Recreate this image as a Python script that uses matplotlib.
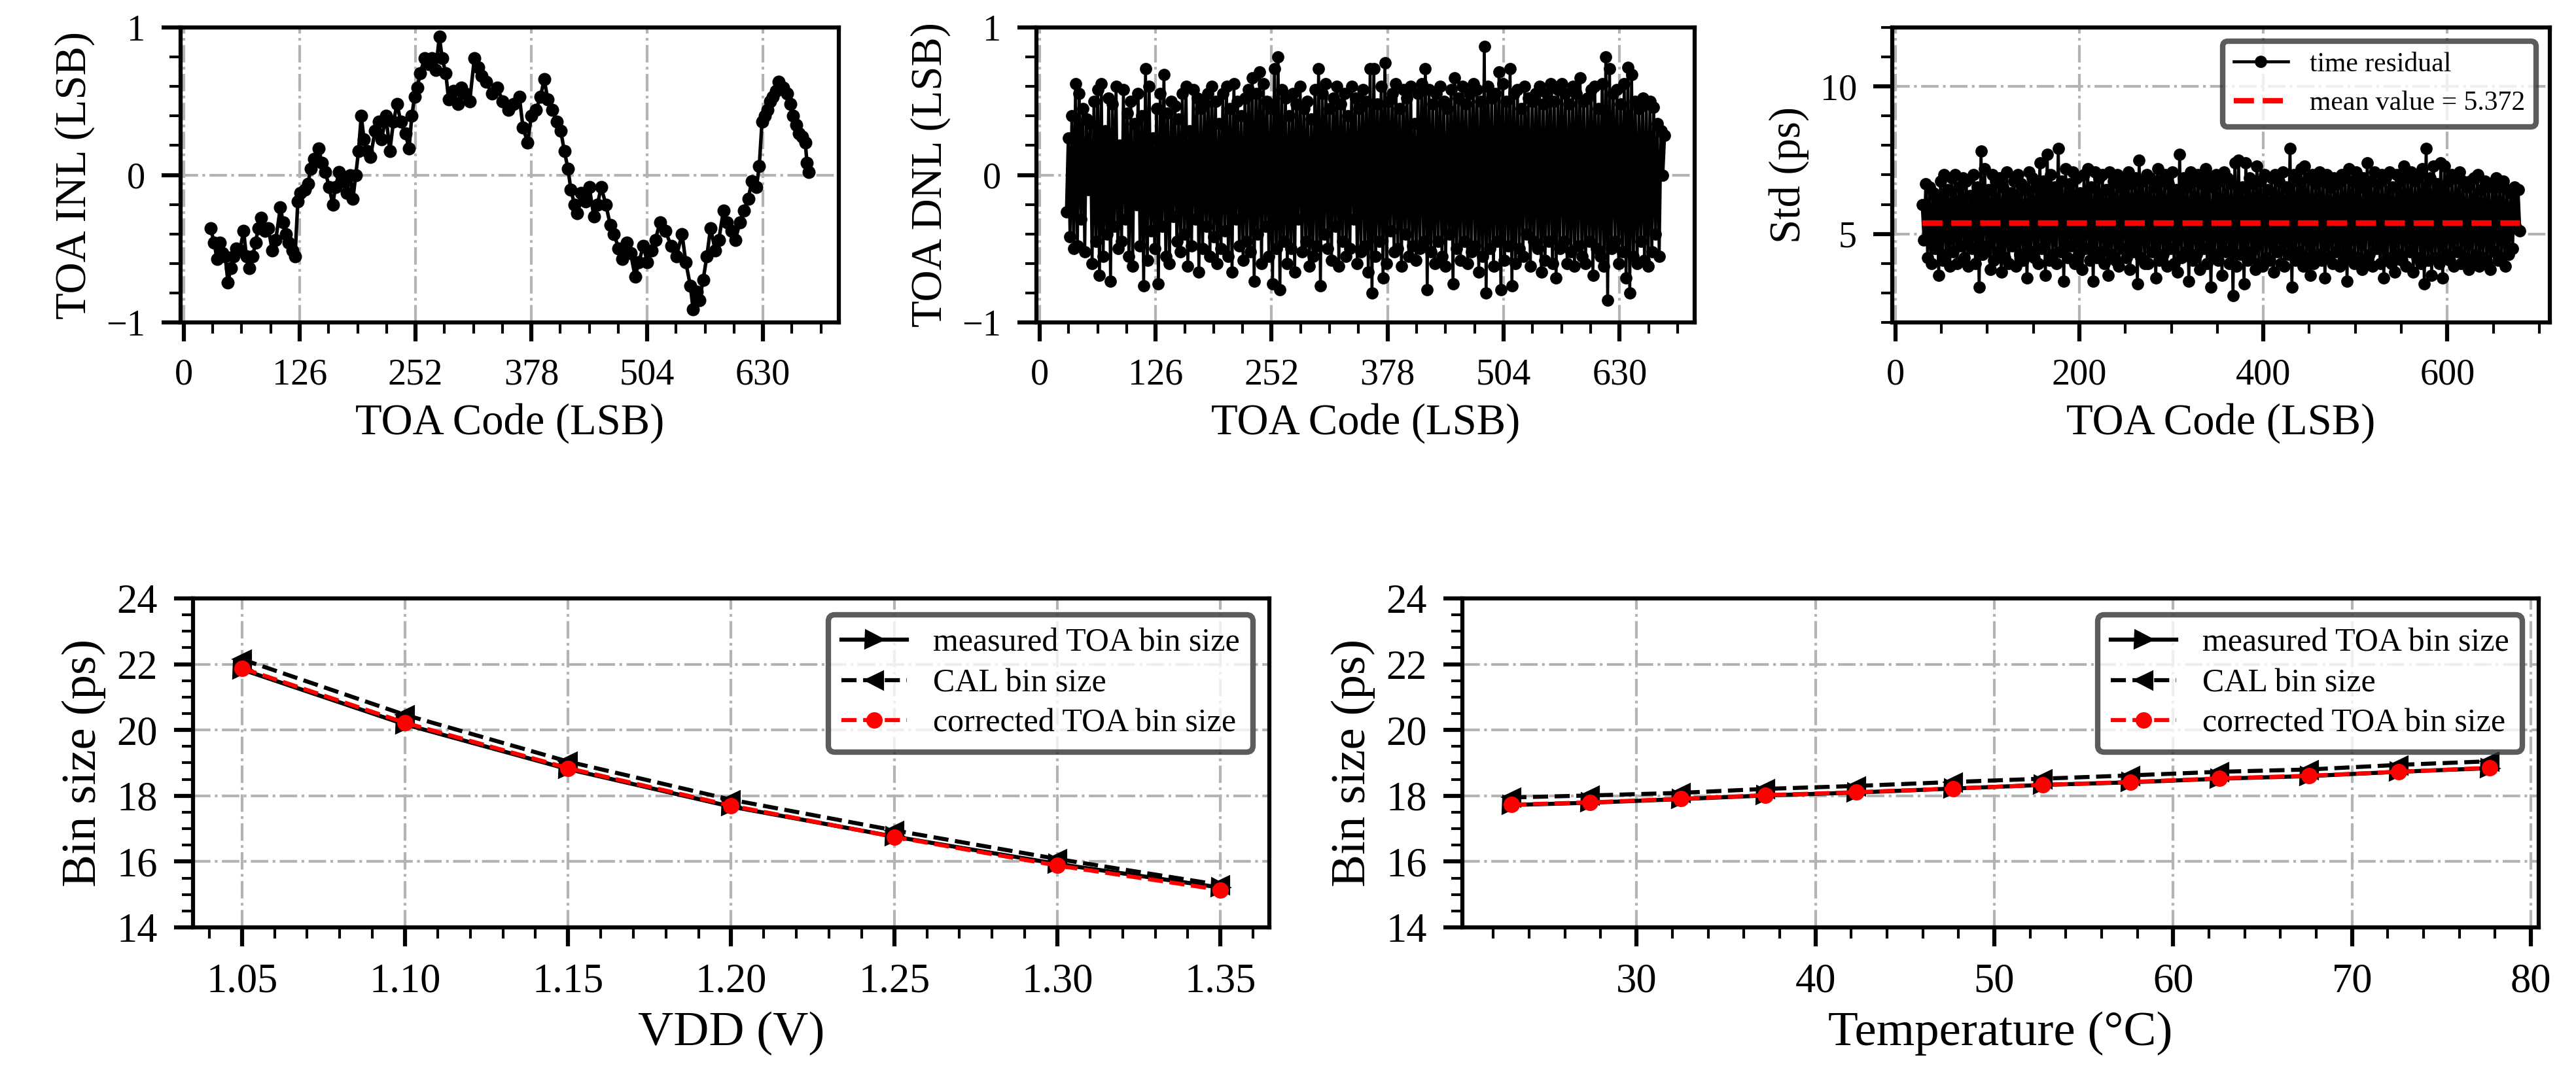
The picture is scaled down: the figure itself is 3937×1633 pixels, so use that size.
import numpy as np
import matplotlib
matplotlib.use('Agg')
import matplotlib.pyplot as plt
from matplotlib.ticker import MultipleLocator, FormatStrFormatter

plt.rcParams['font.family'] = ['Liberation Serif', 'DejaVu Serif']

W, H = 3937, 1633

# INL (LSB) vs TOA code
inl_code = [29, 33, 36, 39, 42, 45, 48, 51, 54, 57,
            61, 65, 68, 71, 75, 78, 81, 84, 88, 92,
            96, 100, 105, 108, 111, 114, 118, 121, 124, 127,
            132, 135, 138, 142, 147, 150, 154, 158, 162, 165,
            169, 172, 177, 181, 184, 187, 190, 193, 196, 199,
            203, 208, 212, 215, 220, 224, 228, 232, 236, 241,
            245, 248, 251, 254, 257, 262, 266, 270, 274, 278,
            281, 285, 288, 293, 298, 302, 306, 311, 316, 320,
            324, 329, 335, 341, 347, 353, 359, 365, 369, 374,
            378, 383, 388, 392, 396, 401, 406, 410, 414, 418,
            421, 425, 428, 432, 437, 441, 446, 450, 454, 459,
            464, 468, 473, 477, 482, 486, 491, 495, 500, 504,
            509, 513, 518, 524, 530, 536, 542, 546, 551, 554,
            558, 561, 565, 569, 573, 578, 582, 587, 591, 596,
            600, 605, 609, 614, 618, 623, 626, 629, 632, 635,
            638, 641, 644, 647, 652, 656, 660, 663, 666, 669,
            673, 676, 678, 680]
inl_lsb = [-0.36, -0.46, -0.57, -0.46, -0.53, -0.55, -0.73, -0.63, -0.55, -0.50,
           -0.51, -0.38, -0.55, -0.63, -0.55, -0.46, -0.36, -0.29, -0.38, -0.36,
           -0.51, -0.44, -0.22, -0.32, -0.40, -0.46, -0.51, -0.55, -0.18, -0.12,
           -0.10, -0.06, 0.04, 0.11, 0.18, 0.08, 0.02, -0.08, -0.20, -0.08,
           0.02, -0.04, -0.12, 0.00, -0.16, 0.00, 0.16, 0.40, 0.24, 0.16,
           0.12, 0.30, 0.36, 0.24, 0.40, 0.16, 0.36, 0.48, 0.36, 0.28,
           0.18, 0.40, 0.53, 0.59, 0.69, 0.79, 0.75, 0.79, 0.71, 0.94,
           0.79, 0.69, 0.51, 0.57, 0.48, 0.59, 0.55, 0.50, 0.79, 0.73,
           0.67, 0.63, 0.55, 0.59, 0.50, 0.44, 0.48, 0.53, 0.32, 0.22,
           0.40, 0.44, 0.53, 0.65, 0.51, 0.44, 0.36, 0.30, 0.16, 0.04,
           -0.10, -0.20, -0.26, -0.12, -0.18, -0.08, -0.28, -0.20, -0.08, -0.20,
           -0.34, -0.40, -0.50, -0.57, -0.46, -0.53, -0.69, -0.59, -0.48, -0.59,
           -0.51, -0.44, -0.32, -0.38, -0.48, -0.55, -0.40, -0.59, -0.75, -0.91,
           -0.79, -0.85, -0.71, -0.55, -0.36, -0.51, -0.44, -0.24, -0.32, -0.38,
           -0.44, -0.32, -0.24, -0.16, -0.04, -0.08, 0.06, 0.36, 0.40, 0.44,
           0.50, 0.53, 0.57, 0.63, 0.59, 0.55, 0.48, 0.40, 0.34, 0.28,
           0.26, 0.22, 0.08, 0.02]

# DNL (LSB), codes 29, 31, 33 ...
dnl_lsb = [-0.25, 0.25, -0.42, 0.4, -0.5, 0.62, -0.48, 0.55, -0.3, 0.45, -0.52, 0.38, -0.1, 0.35, -0.6, 0.5, -0.45, 0.58, -0.68, 0.62,
           -0.55, 0.3, -0.4, 0.52, -0.72, 0.48, -0.35, 0.6, -0.5, 0.2, -0.45, 0.58, -0.3, 0.42, -0.55, 0.5, -0.62, 0.35, -0.2, 0.55,
           -0.48, 0.4, -0.75, 0.72, -0.58, 0.6, -0.38, 0.25, -0.5, 0.45, -0.74, 0.55, -0.35, 0.68, -0.55, 0.42, -0.6, 0.5, -0.28, 0.47,
           -0.45, 0.38, -0.52, 0.55, -0.4, 0.6, -0.62, 0.3, -0.48, 0.58, -0.3, 0.52, -0.66, 0.45, -0.5, 0.48, -0.35, 0.55, -0.55, 0.6,
           -0.42, 0.5, -0.6, 0.35, -0.5, 0.55, -0.38, 0.6, -0.55, 0.45, -0.66, 0.62, -0.3, 0.5, -0.48, 0.4, -0.58, 0.52, -0.45, 0.58,
           -0.52, 0.66, -0.72, 0.55, -0.4, 0.7, -0.6, 0.62, -0.35, 0.5, -0.55, 0.45, -0.74, 0.72, -0.5, 0.8, -0.78, 0.58, -0.45, 0.52,
           -0.6, 0.4, -0.5, 0.55, -0.66, 0.48, -0.3, 0.6, -0.52, 0.45, -0.45, 0.5, -0.62, 0.38, -0.55, 0.58, -0.48, 0.72, -0.75, 0.55,
           -0.4, 0.62, -0.5, 0.45, -0.58, 0.52, -0.35, 0.6, -0.62, 0.48, -0.45, 0.55, -0.55, 0.4, -0.5, 0.6, -0.3, 0.52, -0.6, 0.45,
           -0.52, 0.58, -0.48, 0.5, -0.66, 0.72, -0.8, 0.72, -0.55, 0.48, -0.45, 0.6, -0.7, 0.76, -0.6, 0.5, -0.38, 0.55, -0.52, 0.62,
           -0.5, 0.45, -0.62, 0.58, -0.4, 0.52, -0.55, 0.6, -0.48, 0.35, -0.58, 0.55, -0.5, 0.62, -0.45, 0.72, -0.78, 0.58, -0.52, 0.48,
           -0.6, 0.55, -0.45, 0.6, -0.55, 0.5, -0.62, 0.45, -0.4, 0.58, -0.74, 0.66, -0.5, 0.52, -0.58, 0.6, -0.45, 0.48, -0.6, 0.55,
           -0.52, 0.62, -0.48, 0.58, -0.66, 0.5, -0.55, 0.87, -0.8, 0.6, -0.5, 0.52, -0.62, 0.55, -0.45, 0.7, -0.78, 0.62, -0.58, 0.5,
           -0.48, 0.72, -0.75, 0.55, -0.6, 0.58, -0.5, 0.45, -0.55, 0.6, -0.4, 0.52, -0.62, 0.5, -0.45, 0.55, -0.5, 0.6, -0.66, 0.48,
           -0.58, 0.55, -0.45, 0.62, -0.6, 0.5, -0.7, 0.58, -0.5, 0.62, -0.45, 0.55, -0.6, 0.48, -0.52, 0.6, -0.62, 0.55, -0.48, 0.66,
           -0.55, 0.5, -0.6, 0.52, -0.45, 0.58, -0.68, 0.6, -0.5, 0.45, -0.55, 0.62, -0.62, 0.8, -0.85, 0.72, -0.5, 0.55, -0.45, 0.58,
           -0.6, 0.48, -0.52, 0.62, -0.7, 0.73, -0.8, 0.68, -0.55, 0.5, -0.6, 0.45, -0.45, 0.52, -0.58, 0.48, -0.62, 0.5, -0.52, 0.46,
           -0.4, 0.35, -0.55, 0.3, 0.0, 0.27]

# time residual std (ps), same codes
std_ps = [6.0, 4.8, 6.7, 4.2, 6.6, 4.0, 6.4, 4.5, 6.2, 3.6, 6.8, 4.1, 7.0, 4.3, 6.5, 3.9, 6.9, 4.4, 7.0, 4.0,
          6.6, 4.6, 6.9, 4.2, 6.8, 3.9, 6.3, 4.5, 7.0, 4.0, 6.6, 3.2, 7.8, 4.3, 7.2, 4.6, 6.5, 3.8, 7.0, 4.1,
          6.8, 4.4, 6.9, 3.7, 6.6, 4.2, 7.1, 4.0, 6.4, 4.6, 6.8, 3.9, 7.0, 4.3, 6.7, 4.1, 6.5, 3.5, 7.1, 4.4,
          6.9, 4.2, 6.6, 4.0, 7.4, 4.5, 6.8, 3.6, 7.7, 4.1, 7.0, 4.3, 6.6, 4.0, 7.9, 4.4, 6.8, 3.4, 7.2, 4.2,
          6.7, 4.6, 7.1, 4.0, 6.9, 4.3, 6.4, 3.8, 7.0, 4.5, 7.2, 4.1, 6.6, 3.4, 7.1, 4.2, 6.9, 4.4, 7.0, 4.0,
          6.5, 3.6, 7.1, 4.3, 6.8, 4.1, 7.0, 3.9, 6.6, 4.5, 6.9, 4.2, 7.1, 3.8, 6.7, 4.4, 6.9, 3.3, 7.5, 4.2,
          6.8, 4.0, 7.0, 4.0, 6.9, 4.4, 6.6, 3.5, 7.2, 4.1, 6.8, 4.3, 7.0, 3.9, 6.7, 4.5, 7.1, 4.0, 6.5, 3.7,
          7.7, 4.2, 6.9, 4.4, 6.6, 3.4, 7.1, 4.1, 6.8, 4.3, 7.0, 3.8, 6.7, 4.5, 7.2, 4.0, 6.9, 3.2, 6.6, 4.3,
          7.0, 4.1, 6.8, 3.6, 7.1, 4.4, 6.9, 4.0, 6.7, 2.9, 7.4, 3.9, 7.5, 4.3, 6.6, 3.3, 7.4, 4.1, 6.9, 4.4,
          6.7, 3.8, 7.3, 4.0, 6.8, 3.9, 7.0, 4.2, 6.5, 4.1, 6.9, 3.7, 7.0, 4.4, 6.8, 4.0, 7.1, 3.9, 6.6, 4.3,
          7.9, 3.2, 7.0, 4.1, 6.8, 4.4, 7.2, 3.9, 7.3, 4.2, 6.9, 3.6, 7.0, 4.0, 6.7, 4.3, 7.1, 4.1, 6.8, 3.5,
          7.0, 4.2, 6.6, 4.0, 6.9, 4.4, 6.7, 3.9, 7.0, 4.1, 6.9, 3.4, 7.2, 4.3, 6.8, 4.0, 7.1, 4.2, 6.6, 3.8,
          6.9, 4.1, 7.4, 4.3, 6.8, 3.9, 7.1, 4.5, 6.7, 4.0, 7.0, 3.5, 6.9, 4.2, 7.1, 4.0, 6.6, 3.7, 7.0, 4.3,
          6.8, 4.1, 7.3, 3.9, 6.9, 4.4, 7.1, 3.7, 6.8, 4.2, 7.0, 4.0, 7.2, 3.3, 7.9, 4.1, 6.9, 3.6, 7.3, 4.2,
          6.7, 4.0, 7.4, 3.5, 7.3, 4.3, 6.8, 4.1, 7.0, 3.9, 6.9, 4.4, 7.1, 4.0, 6.8, 4.2, 6.6, 3.8, 6.8, 4.1,
          6.9, 4.3, 7.0, 3.9, 6.5, 4.2, 6.8, 4.0, 6.7, 3.8, 6.6, 4.4, 6.9, 4.1, 6.6, 4.2, 6.8, 3.9, 6.5, 4.3,
          6.4, 4.5, 6.6, 5.2, 6.5, 5.1]
std_mean = 5.372

# bin size vs VDD
vdd = [1.05, 1.10, 1.15, 1.20, 1.25, 1.30, 1.35]
vdd_measured = [21.84, 20.17, 18.81, 17.67, 16.76, 15.93, 15.21]
vdd_cal = [22.15, 20.46, 19.04, 17.88, 16.95, 16.08, 15.29]
vdd_corrected = [21.88, 20.22, 18.84, 17.70, 16.75, 15.88, 15.14]

# bin size vs temperature
temp = [23.0, 27.4, 32.5, 37.2, 42.3, 47.7, 52.7, 57.6, 62.6, 67.6, 72.6, 77.7]
temp_measured = [17.72, 17.79, 17.90, 18.01, 18.10, 18.22, 18.33, 18.41, 18.52, 18.60, 18.73, 18.84]
temp_cal = [17.95, 18.01, 18.09, 18.21, 18.30, 18.42, 18.52, 18.62, 18.73, 18.80, 18.94, 19.05]
temp_corrected = [17.73, 17.80, 17.91, 18.02, 18.11, 18.22, 18.33, 18.42, 18.53, 18.61, 18.73, 18.85]


def axes_px(fig, x0, y0, x1, y1):
  return fig.add_axes([x0 / W, 1 - y1 / H, (x1 - x0) / W, (y1 - y0) / H])


def style(ax, size):
  for s in ax.spines.values():
    s.set_linewidth(1.5)
  ax.tick_params(which='major', direction='out', length=7, width=1.5, labelsize=size, pad=6)
  ax.tick_params(which='minor', direction='out', length=4, width=1)
  ax.grid(which='major', linestyle='-.', color='#b3b3b3', linewidth=1)
  ax.set_axisbelow(True)


def frame(leg):
  leg.get_frame().set_edgecolor('#333333')
  leg.get_frame().set_linewidth(2)


fig = plt.figure(figsize=(W / 300, H / 300), dpi=300)

codes = np.arange(29, 29 + 2 * len(dnl_lsb), 2)

# INL
ax1 = axes_px(fig, 276, 42, 1282, 493)
ax1.plot(inl_code, inl_lsb, '-o', color='black', lw=1.3, ms=3.8)
ax1.set_ylim(-1, 1)
ax1.xaxis.set_major_locator(MultipleLocator(126))
ax1.xaxis.set_minor_locator(MultipleLocator(31.5))
ax1.yaxis.set_major_locator(MultipleLocator(1))
ax1.yaxis.set_minor_locator(MultipleLocator(0.2))
ax1.set_xlabel('TOA Code (LSB)', fontsize=16)
ax1.set_ylabel('TOA INL (LSB)', fontsize=16)
style(ax1, 13.5)

# DNL
ax2 = axes_px(fig, 1584, 42, 2590, 493)
ax2.plot(codes, dnl_lsb, '-o', color='black', lw=1.1, ms=3.5)
ax2.set_ylim(-1, 1)
ax2.xaxis.set_major_locator(MultipleLocator(126))
ax2.xaxis.set_minor_locator(MultipleLocator(31.5))
ax2.yaxis.set_major_locator(MultipleLocator(1))
ax2.yaxis.set_minor_locator(MultipleLocator(0.2))
ax2.set_xlabel('TOA Code (LSB)', fontsize=16)
ax2.set_ylabel('TOA DNL (LSB)', fontsize=16)
style(ax2, 13.5)

# Std
ax3 = axes_px(fig, 2892, 42, 3897, 493)
ax3.plot(codes, std_ps, '-o', color='black', lw=1.1, ms=3.5, label='time residual')
ax3.plot([codes[0], codes[-1]], [std_mean, std_mean], '--', color='red', lw=2,
         label=f'mean value = {std_mean}')
ax3.set_ylim(2, 12)
ax3.xaxis.set_major_locator(MultipleLocator(200))
ax3.xaxis.set_minor_locator(MultipleLocator(50))
ax3.yaxis.set_major_locator(MultipleLocator(5))
ax3.yaxis.set_minor_locator(MultipleLocator(1))
ax3.set_xlabel('TOA Code (LSB)', fontsize=16)
ax3.set_ylabel('Std (ps)', fontsize=16)
style(ax3, 13.5)
frame(ax3.legend(loc='upper right', fontsize=10))

# VDD
ax4 = axes_px(fig, 295, 915, 1940, 1418)
ax4.plot(vdd, vdd_measured, '->', color='black', lw=1.5, ms=6, label='measured TOA bin size')
ax4.plot(vdd, vdd_cal, '--<', color='black', lw=1.5, ms=6, label='CAL bin size')
ax4.plot(vdd, vdd_corrected, '--o', color='red', lw=1.5, ms=5, label='corrected TOA bin size')
ax4.set_ylim(14, 24)
ax4.xaxis.set_major_locator(MultipleLocator(0.05))
ax4.xaxis.set_minor_locator(MultipleLocator(0.01))
ax4.xaxis.set_major_formatter(FormatStrFormatter('%.2f'))
ax4.yaxis.set_major_locator(MultipleLocator(2))
ax4.yaxis.set_minor_locator(MultipleLocator(0.5))
ax4.set_xlabel('VDD (V)', fontsize=18)
ax4.set_ylabel('Bin size (ps)', fontsize=18)
style(ax4, 15)
frame(ax4.legend(loc='upper right', fontsize=12, labelspacing=0.3))

# Temperature
ax5 = axes_px(fig, 2235, 915, 3880, 1418)
ax5.plot(temp, temp_measured, '->', color='black', lw=1.5, ms=6, label='measured TOA bin size')
ax5.plot(temp, temp_cal, '--<', color='black', lw=1.5, ms=6, label='CAL bin size')
ax5.plot(temp, temp_corrected, '--o', color='red', lw=1.5, ms=5, label='corrected TOA bin size')
ax5.set_ylim(14, 24)
ax5.xaxis.set_major_locator(MultipleLocator(10))
ax5.xaxis.set_minor_locator(MultipleLocator(2))
ax5.yaxis.set_major_locator(MultipleLocator(2))
ax5.yaxis.set_minor_locator(MultipleLocator(0.5))
ax5.set_xlabel('Temperature (°C)', fontsize=18)
ax5.set_ylabel('Bin size (ps)', fontsize=18)
style(ax5, 15)
frame(ax5.legend(loc='upper right', fontsize=12, labelspacing=0.3))

fig.savefig('out.png', dpi=300)
